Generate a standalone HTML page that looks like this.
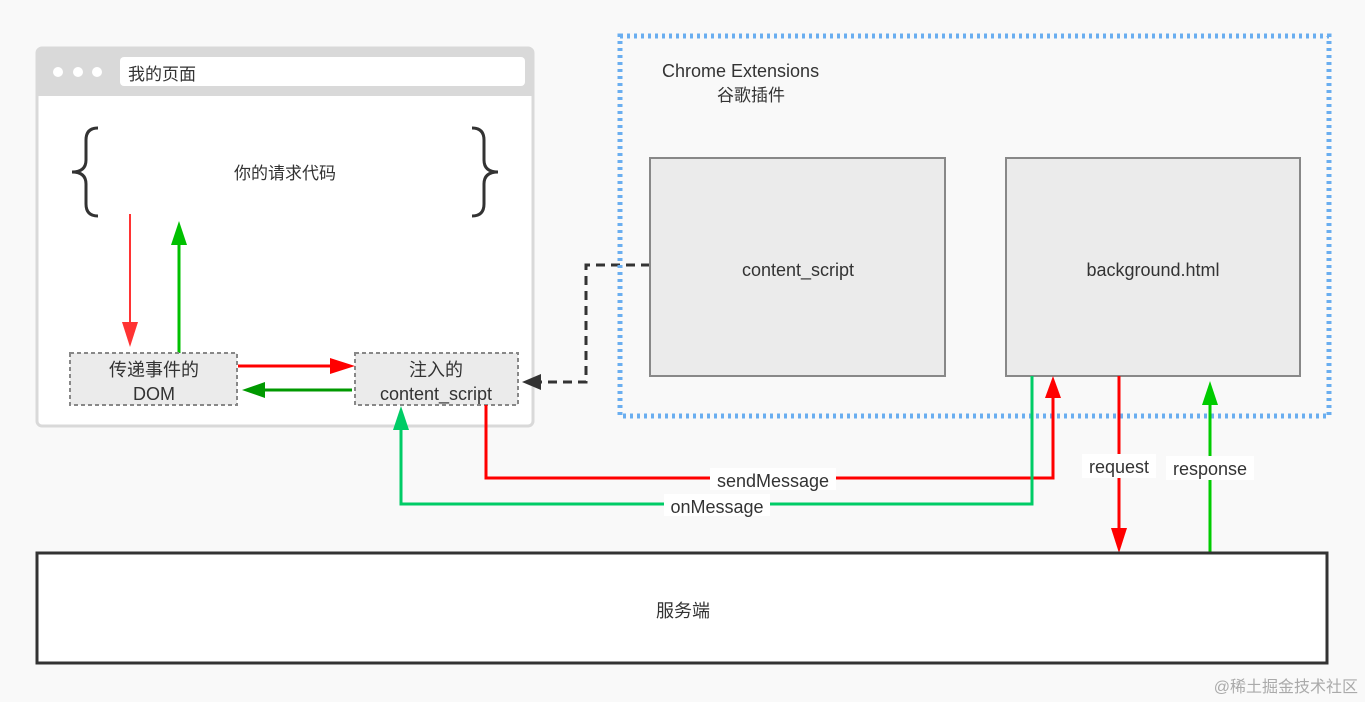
<!DOCTYPE html>
<html><head><meta charset="utf-8"><style>
html,body{margin:0;padding:0;background:#f9f9f9;}
svg{display:block;font-family:"Liberation Sans","Noto Sans CJK SC",sans-serif;}
</style></head><body>
<svg width="1365" height="702" viewBox="0 0 1365 702" xmlns="http://www.w3.org/2000/svg">
<defs>
<marker id="ar" markerWidth="10" markerHeight="10" refX="9" refY="5" orient="auto" markerUnits="userSpaceOnUse"><path d="M0,0 L10,5 L0,10z" fill="#f33"/></marker>
</defs>
<rect width="1365" height="702" fill="#f9f9f9"/>
<!-- browser -->
<rect x="37" y="48" width="496" height="378" rx="5" fill="#fff" stroke="#d9d9d9" stroke-width="3"/>
<path d="M37,53 a5,5 0 0 1 5,-5 h486 a5,5 0 0 1 5,5 v43 h-496z" fill="#d9d9d9"/>
<circle cx="58" cy="72" r="5" fill="#fff"/><circle cx="78" cy="72" r="5" fill="#fff"/><circle cx="97" cy="72" r="5" fill="#fff"/>
<rect x="120" y="57" width="405" height="29" rx="4" fill="#fff"/>
<text x="128" y="80" font-size="17" fill="#333">我的页面</text>
<path d="M98,128 q-12,0 -12,12 v20 q0,12 -14,12 q14,0 14,12 v20 q0,12 12,12" fill="none" stroke="#333" stroke-width="3"/>
<path d="M472,128 q12,0 12,12 v20 q0,12 14,12 q-14,0 -14,12 v20 q0,12 -12,12" fill="none" stroke="#333" stroke-width="3"/>
<text x="285" y="179" font-size="17" fill="#333" text-anchor="middle">你的请求代码</text>
<!-- red down -->
<line x1="130" y1="214" x2="130" y2="328" stroke="#f33" stroke-width="2"/>
<path d="M122,322 L138,322 L130,347z" fill="#f33"/>
<line x1="179" y1="353" x2="179" y2="240" stroke="#00c000" stroke-width="3"/>
<path d="M171,245 L187,245 L179,221z" fill="#00c000"/>
<!-- DOM box -->
<rect x="70" y="353" width="167" height="52" fill="#ebebeb" stroke="#888" stroke-width="2" stroke-dasharray="4,3"/>
<text x="154" y="376" font-size="18" fill="#333" text-anchor="middle">传递事件的</text>
<text x="154" y="400" font-size="18" fill="#333" text-anchor="middle">DOM</text>
<rect x="355" y="353" width="163" height="52" fill="#ebebeb" stroke="#888" stroke-width="2" stroke-dasharray="4,3"/>
<text x="436" y="376" font-size="18" fill="#333" text-anchor="middle">注入的</text>
<text x="436" y="400" font-size="18" fill="#333" text-anchor="middle">content_script</text>
<line x1="238" y1="366" x2="335" y2="366" stroke="#f00" stroke-width="3"/>
<path d="M330,358 L355,366 L330,374z" fill="#f00"/>
<line x1="352" y1="390" x2="262" y2="390" stroke="#090" stroke-width="3"/>
<path d="M265,382 L242,390 L265,398z" fill="#090"/>
<!-- dashed connector -->
<path d="M650,265 H586 V382 H540" fill="none" stroke="#333" stroke-width="3" stroke-dasharray="9,6"/>
<path d="M541,374 L522,382 L541,390z" fill="#333"/>
<!-- extensions -->
<rect x="620" y="36" width="709" height="380" fill="none" stroke="#6aaef0" stroke-width="5" stroke-dasharray="3,4"/>
<text x="662" y="77" font-size="18" fill="#333">Chrome Extensions</text>
<text x="751" y="101" font-size="17" fill="#333" text-anchor="middle">谷歌插件</text>
<rect x="650" y="158" width="295" height="218" fill="#ebebeb" stroke="#888" stroke-width="2"/>
<text x="798" y="276" font-size="18" fill="#333" text-anchor="middle">content_script</text>
<rect x="1006" y="158" width="294" height="218" fill="#ebebeb" stroke="#888" stroke-width="2"/>
<text x="1153" y="276" font-size="18" fill="#333" text-anchor="middle">background.html</text>
<!-- send/on message -->
<path d="M486,405 V478 H1053 V395" fill="none" stroke="#f00" stroke-width="3"/>
<path d="M1045,398 L1061,398 L1053,376z" fill="#f00"/>
<path d="M1032,376 V504 H401 V428" fill="none" stroke="#0c6" stroke-width="3"/>
<path d="M393,430 L409,430 L401,406z" fill="#0c6"/>
<rect x="710" y="468" width="126" height="22" fill="#fff"/>
<text x="773" y="487" font-size="18" fill="#333" text-anchor="middle">sendMessage</text>
<rect x="664" y="494" width="106" height="22" fill="#fff"/>
<text x="717" y="513" font-size="18" fill="#333" text-anchor="middle">onMessage</text>
<!-- request/response -->
<line x1="1119" y1="376" x2="1119" y2="530" stroke="#f00" stroke-width="3"/>
<path d="M1111,528 L1127,528 L1119,553z" fill="#f00"/>
<line x1="1210" y1="553" x2="1210" y2="402" stroke="#0c0" stroke-width="3"/>
<path d="M1202,405 L1218,405 L1210,381z" fill="#0c0"/>
<rect x="1082" y="454" width="74" height="24" fill="#fff"/>
<text x="1119" y="473" font-size="18" fill="#333" text-anchor="middle">request</text>
<rect x="1166" y="456" width="88" height="24" fill="#fff"/>
<text x="1210" y="475" font-size="18" fill="#333" text-anchor="middle">response</text>
<!-- server -->
<rect x="37" y="553" width="1290" height="110" fill="#fff" stroke="#333" stroke-width="3"/>
<text x="683" y="617" font-size="18" fill="#333" text-anchor="middle">服务端</text>
<text x="1358" y="692" font-size="16" fill="#aaa" text-anchor="end">@稀土掘金技术社区</text>
</svg>
</body></html>
